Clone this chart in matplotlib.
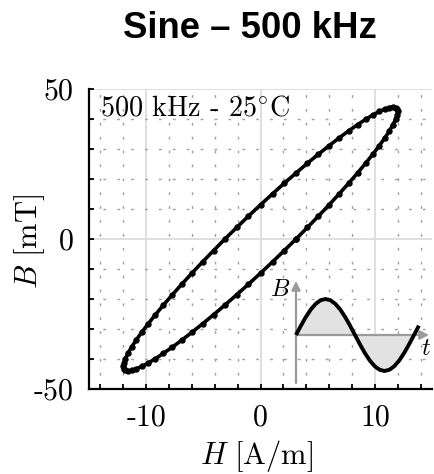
import numpy as np
import matplotlib
matplotlib.use("Agg")
import matplotlib.pyplot as plt
from matplotlib.ticker import MultipleLocator, FixedLocator

# ---------------- data ----------------
H_loop = [3.11, 4.10, 5.07, 6.00, 6.88, 7.71, 8.49, 9.19, 9.83, 10.39, 10.88, 11.28,
          11.59, 11.82, 11.95, 12.00, 11.95, 11.82, 11.59, 11.28, 10.88, 10.39, 9.83, 9.19,
          8.49, 7.71, 6.88, 6.00, 5.07, 4.10, 3.11, 2.08, 1.05, 0.00, -1.05, -2.08,
          -3.11, -4.10, -5.07, -6.00, -6.88, -7.71, -8.49, -9.19, -9.83, -10.39, -10.88, -11.28,
          -11.59, -11.82, -11.95, -12.00, -11.95, -11.82, -11.59, -11.28, -10.88, -10.39, -9.83, -9.19,
          -8.49, -7.71, -6.88, -6.00, -5.07, -4.10, -3.11, -2.08, -1.05, 0.00, 1.05, 2.08, 3.11]
B_loop = [0.0, 3.84, 7.64, 11.39, 15.05, 18.59, 22.00, 25.24, 28.28, 31.11, 33.70, 36.04,
          38.10, 39.88, 41.35, 42.50, 43.33, 43.83, 44.00, 43.83, 43.33, 42.50, 41.35, 39.88,
          38.10, 36.04, 33.70, 31.11, 28.28, 25.24, 22.00, 18.59, 15.05, 11.39, 7.64, 3.84,
          0.0, -3.84, -7.64, -11.39, -15.05, -18.59, -22.00, -25.24, -28.28, -31.11, -33.70, -36.04,
          -38.10, -39.88, -41.35, -42.50, -43.33, -43.83, -44.00, -43.83, -43.33, -42.50, -41.35, -39.88,
          -38.10, -36.04, -33.70, -31.11, -28.28, -25.24, -22.00, -18.59, -15.05, -11.39, -7.64, -3.84, 0.0]

x_ticks = [-10, 0, 10]
x_ticklabels = ["-10", "0", "10"]
y_ticks = [-50, 0, 50]
y_ticklabels = ["-50", "0", "50"]

title = "Sine – 500 kHz"
annotation = "500 kHz - 25$^{\\circ}$C"

# inset waveform icon (phase in degrees, normalised B)
icon_phase = [0, 15, 30, 45, 60, 75, 90, 105, 120, 135, 150, 165, 180, 195, 210, 225,
              240, 255, 270, 285, 300, 315, 330, 345, 360, 375]
icon_B = [0, 0.259, 0.5, 0.707, 0.866, 0.966, 1.0, 0.966, 0.866, 0.707, 0.5, 0.259, 0,
          -0.259, -0.5, -0.707, -0.866, -0.966, -1.0, -0.966, -0.866, -0.707, -0.5, -0.259, 0, 0.259]

# ---------------- figure ----------------
plt.rcParams["mathtext.fontset"] = "cm"
plt.rcParams["axes.unicode_minus"] = False

W, Hh = 434, 474
fig = plt.figure(figsize=(W / 100, Hh / 100), dpi=100)

def px(x0, y0, x1, y1):
    return [x0 / W, 1 - y1 / Hh, (x1 - x0) / W, (y1 - y0) / Hh]

ax = fig.add_axes(px(89, 89, 432, 389))
ax.set_xlim(-15, 15)
ax.set_ylim(-50, 50)

ax.plot(H_loop, B_loop, color="black", lw=2.6, marker="o", ms=3.6,
        solid_joinstyle="round", zorder=5, clip_on=False)

ax.xaxis.set_major_locator(FixedLocator(x_ticks))
ax.yaxis.set_major_locator(FixedLocator(y_ticks))
ax.xaxis.set_minor_locator(MultipleLocator(2))
ax.yaxis.set_minor_locator(MultipleLocator(10))
ax.set_xticklabels(x_ticklabels, fontfamily="cmr10", fontsize=21.5)
ax.set_yticklabels(y_ticklabels, fontfamily="cmr10", fontsize=21.5)

ax.tick_params(which="both", direction="in", length=3.5, width=1.3, color="black",
               top=False, right=False)
ax.tick_params(axis="x", which="major", pad=11)
ax.tick_params(axis="y", which="major", pad=11)

ax.grid(which="major", color="#dcdcdc", lw=1.3, ls="-", zorder=0)
ax.grid(which="minor", color="#a0a0a0", lw=1.0, ls=(0, (2, 8)), zorder=0)
ax.set_axisbelow(True)

for s in ["top", "right"]:
    ax.spines[s].set_visible(False)
for s in ["left", "bottom"]:
    ax.spines[s].set_linewidth(1.6)
    ax.spines[s].set_color("black")

ax.text(0.032, 0.937, annotation, transform=ax.transAxes, fontfamily="cmr10",
        fontsize=20.3, ha="left", va="center", zorder=6)

# labels
fig.text(257 / W, 1 - 456 / Hh, r"$H\ [\mathrm{A/m}]$", fontsize=22,
         ha="center", va="center")
fig.text(30 / W, 1 - 242 / Hh, r"$B\ [\mathrm{mT}]$", fontsize=22,
         ha="center", va="center", rotation=90)
fig.text(250 / W, 1 - 38 / Hh, title, fontfamily="Liberation Sans", fontweight="bold",
         fontsize=26.3, ha="center", va="baseline")

# ---------------- inset icon ----------------
x0p, x1p, y0p, y1p = 280, 434, 278, 390
axc, per, amp, zy = 296, 118.0, 36.0, 335
ins = fig.add_axes(px(x0p, y0p, x1p, y1p))
ins.set_xlim((x0p - axc) / per * 360, (x1p - axc) / per * 360)
ins.set_ylim((zy - y1p) / amp, (zy - y0p) / amp)
ins.axis("off")
ins.patch.set_alpha(0)

fill_n = 25
ins.fill_between(icon_phase[:fill_n], icon_B[:fill_n], 0, color="#e2e2e2", lw=0, zorder=1)
gray = "#9a9a9a"
ins.annotate("", xy=(0, (zy - 281) / amp), xytext=(0, (zy - 383) / amp),
             arrowprops=dict(arrowstyle="-|>", color=gray, lw=1.6, mutation_scale=13,
                             shrinkA=0, shrinkB=0), zorder=2)
ins.annotate("", xy=((429 - axc) / per * 360, 0), xytext=(0, 0),
             arrowprops=dict(arrowstyle="-|>", color=gray, lw=1.6, mutation_scale=13,
                             shrinkA=0, shrinkB=0), zorder=2)
ins.plot(icon_phase, icon_B, color="black", lw=2.8, solid_capstyle="butt", zorder=3)
ins.text((290 - axc) / per * 360, (zy - 289) / amp, r"$B$", fontsize=17.5,
         ha="right", va="center")
ins.text((426 - axc) / per * 360, (zy - 348) / amp, r"$t$", fontsize=17.5,
         ha="center", va="center")

fig.savefig("out.png", dpi=100)
